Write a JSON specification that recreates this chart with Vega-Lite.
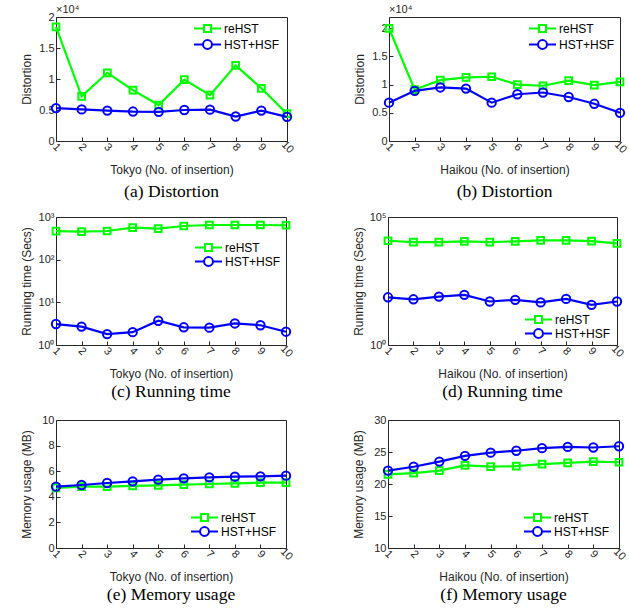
{
  "$schema": "https://vega.github.io/schema/vega-lite/v6.json",
  "padding": {"left": 19, "top": 3, "right": 0, "bottom": 0},
  "background": "white",
  "config": {
    "font": "Liberation Sans",
    "view": {"stroke": "#262626", "strokeWidth": 1},
    "axis": {
      "domain": false, "grid": false, "labelOverlap": false,
      "labelFont": "Liberation Sans", "labelFontSize": 11, "labelColor": "#262626",
      "titleFont": "Liberation Sans", "titleFontSize": 12, "titleFontWeight": "normal", "titleColor": "#262626",
      "tickColor": "#262626", "tickSize": -4
    },
    "axisX": {"labelAngle": 45, "labelAlign": "center", "labelBaseline": "middle", "labelPadding": 10, "titlePadding": 10, "labelFlush": false, "labelOverlap": false},
    "axisY": {"titlePadding": 3, "minExtent": 20, "maxExtent": 20, "labelPadding": 6, "labelOverlap": false},
    "legend": {"labelFont": "Liberation Sans", "labelFontSize": 12, "labelColor": "#000000", "symbolStrokeWidth": 2, "symbolSize": 729, "padding": 0, "labelOffset": 2, "symbolFillColor": "transparent"},
    "title": {"font": "Liberation Serif", "fontSize": 17.5, "fontWeight": "normal", "color": "#000000", "orient": "bottom", "anchor": "middle"}
  },
  "datasets": {
    "a": [
      {"n":1,"m":"reHST","v":18400},{"n":2,"m":"reHST","v":7200},{"n":3,"m":"reHST","v":11000},{"n":4,"m":"reHST","v":8200},{"n":5,"m":"reHST","v":5800},{"n":6,"m":"reHST","v":9900},{"n":7,"m":"reHST","v":7400},{"n":8,"m":"reHST","v":12200},{"n":9,"m":"reHST","v":8500},{"n":10,"m":"reHST","v":4400},
      {"n":1,"m":"HST+HSF","v":5300},{"n":2,"m":"HST+HSF","v":5100},{"n":3,"m":"HST+HSF","v":4900},{"n":4,"m":"HST+HSF","v":4750},{"n":5,"m":"HST+HSF","v":4700},{"n":6,"m":"HST+HSF","v":5000},{"n":7,"m":"HST+HSF","v":5050},{"n":8,"m":"HST+HSF","v":3950},{"n":9,"m":"HST+HSF","v":4900},{"n":10,"m":"HST+HSF","v":3900}
    ],
    "b": [
      {"n":1,"m":"reHST","v":20000},{"n":2,"m":"reHST","v":9100},{"n":3,"m":"reHST","v":10800},{"n":4,"m":"reHST","v":11300},{"n":5,"m":"reHST","v":11400},{"n":6,"m":"reHST","v":10000},{"n":7,"m":"reHST","v":9800},{"n":8,"m":"reHST","v":10700},{"n":9,"m":"reHST","v":9900},{"n":10,"m":"reHST","v":10500},
      {"n":1,"m":"HST+HSF","v":6800},{"n":2,"m":"HST+HSF","v":8900},{"n":3,"m":"HST+HSF","v":9500},{"n":4,"m":"HST+HSF","v":9300},{"n":5,"m":"HST+HSF","v":6800},{"n":6,"m":"HST+HSF","v":8300},{"n":7,"m":"HST+HSF","v":8600},{"n":8,"m":"HST+HSF","v":7800},{"n":9,"m":"HST+HSF","v":6600},{"n":10,"m":"HST+HSF","v":5000}
    ],
    "c": [
      {"n":1,"m":"reHST","v":468},{"n":2,"m":"reHST","v":455},{"n":3,"m":"reHST","v":470},{"n":4,"m":"reHST","v":562},{"n":5,"m":"reHST","v":533},{"n":6,"m":"reHST","v":615},{"n":7,"m":"reHST","v":650},{"n":8,"m":"reHST","v":650},{"n":9,"m":"reHST","v":650},{"n":10,"m":"reHST","v":640},
      {"n":1,"m":"HST+HSF","v":3.1},{"n":2,"m":"HST+HSF","v":2.7},{"n":3,"m":"HST+HSF","v":1.8},{"n":4,"m":"HST+HSF","v":2.0},{"n":5,"m":"HST+HSF","v":3.7},{"n":6,"m":"HST+HSF","v":2.6},{"n":7,"m":"HST+HSF","v":2.55},{"n":8,"m":"HST+HSF","v":3.2},{"n":9,"m":"HST+HSF","v":2.9},{"n":10,"m":"HST+HSF","v":2.05}
    ],
    "d": [
      {"n":1,"m":"reHST","v":11800},{"n":2,"m":"reHST","v":10500},{"n":3,"m":"reHST","v":10500},{"n":4,"m":"reHST","v":11200},{"n":5,"m":"reHST","v":10500},{"n":6,"m":"reHST","v":11200},{"n":7,"m":"reHST","v":12200},{"n":8,"m":"reHST","v":12200},{"n":9,"m":"reHST","v":11500},{"n":10,"m":"reHST","v":9300},
      {"n":1,"m":"HST+HSF","v":73},{"n":2,"m":"HST+HSF","v":61},{"n":3,"m":"HST+HSF","v":78},{"n":4,"m":"HST+HSF","v":91},{"n":5,"m":"HST+HSF","v":50},{"n":6,"m":"HST+HSF","v":58},{"n":7,"m":"HST+HSF","v":46},{"n":8,"m":"HST+HSF","v":63},{"n":9,"m":"HST+HSF","v":37},{"n":10,"m":"HST+HSF","v":50}
    ],
    "e": [
      {"n":1,"m":"reHST","v":4.7},{"n":2,"m":"reHST","v":4.8},{"n":3,"m":"reHST","v":4.8},{"n":4,"m":"reHST","v":4.85},{"n":5,"m":"reHST","v":4.9},{"n":6,"m":"reHST","v":4.95},{"n":7,"m":"reHST","v":5.0},{"n":8,"m":"reHST","v":5.05},{"n":9,"m":"reHST","v":5.1},{"n":10,"m":"reHST","v":5.1},
      {"n":1,"m":"HST+HSF","v":4.8},{"n":2,"m":"HST+HSF","v":4.92},{"n":3,"m":"HST+HSF","v":5.08},{"n":4,"m":"HST+HSF","v":5.21},{"n":5,"m":"HST+HSF","v":5.34},{"n":6,"m":"HST+HSF","v":5.44},{"n":7,"m":"HST+HSF","v":5.52},{"n":8,"m":"HST+HSF","v":5.57},{"n":9,"m":"HST+HSF","v":5.6},{"n":10,"m":"HST+HSF","v":5.65}
    ],
    "f": [
      {"n":1,"m":"reHST","v":21.5},{"n":2,"m":"reHST","v":21.7},{"n":3,"m":"reHST","v":22.1},{"n":4,"m":"reHST","v":22.9},{"n":5,"m":"reHST","v":22.7},{"n":6,"m":"reHST","v":22.8},{"n":7,"m":"reHST","v":23.1},{"n":8,"m":"reHST","v":23.3},{"n":9,"m":"reHST","v":23.5},{"n":10,"m":"reHST","v":23.4},
      {"n":1,"m":"HST+HSF","v":22.1},{"n":2,"m":"HST+HSF","v":22.7},{"n":3,"m":"HST+HSF","v":23.5},{"n":4,"m":"HST+HSF","v":24.4},{"n":5,"m":"HST+HSF","v":24.9},{"n":6,"m":"HST+HSF","v":25.2},{"n":7,"m":"HST+HSF","v":25.6},{"n":8,"m":"HST+HSF","v":25.8},{"n":9,"m":"HST+HSF","v":25.7},{"n":10,"m":"HST+HSF","v":25.9}
    ]
  },
  "spacing": 9,
  "vconcat": [
    {
      "spacing": 55,
      "hconcat": [
        {
          "width": 231, "height": 124,
          "title": {"text": "(a) Distortion", "offset": 7},
          "layer": [
            {
              "data": {"name": "a"},
              "encoding": {
                "x": {"field": "n", "type": "quantitative", "scale": {"domain": [1, 10], "nice": false}, "axis": {"values": [1,2,3,4,5,6,7,8,9,10], "labelOverlap": false, "title": "Tokyo (No. of insertion)"}},
                "y": {"field": "v", "type": "quantitative", "scale": {"domain": [0, 20000], "nice": false}, "axis": {"values": [0,5000,10000,15000,20000], "labelOverlap": false, "labelExpr": "datum.value/10000 + ''", "title": "Distortion"}}
              },
              "resolve": {"scale": {"color": "independent"}},
              "layer": [
                {
                  "transform": [{"filter": "datum.m === 'reHST'"}],
                  "encoding": {"color": {"field": "m", "type": "nominal", "scale": {"domain": ["reHST"], "range": ["#00ff00"]}, "legend": {"orient": "none", "legendX": 137, "legendY": -3, "title": null, "symbolSize": 729, "symbolType": "M-1,0L-0.26,0M-0.26,-0.26L0.26,-0.26L0.26,0.26L-0.26,0.26ZM0.26,0L1,0"}}},
                  "layer": [
                    {"mark": {"type": "line", "strokeWidth": 2.2}},
                    {"mark": {"type": "square", "filled": false, "size": 45, "strokeWidth": 2, "opacity": 1}}
                  ]
                },
                {
                  "transform": [{"filter": "datum.m === 'HST+HSF'"}],
                  "encoding": {"color": {"field": "m", "type": "nominal", "scale": {"domain": ["HST+HSF"], "range": ["#0000ff"]}, "legend": {"orient": "none", "legendX": 137, "legendY": 13, "title": null, "symbolSize": 729, "symbolType": "M-1,0L-0.33,0M0.33,0L1,0M-0.33,0A0.33,0.33,0,1,0,0.33,0A0.33,0.33,0,1,0,-0.33,0"}}},
                  "layer": [
                    {"mark": {"type": "line", "strokeWidth": 2.2}},
                    {"mark": {"type": "circle", "filled": false, "size": 70, "strokeWidth": 2, "opacity": 1}}
                  ]
                }
              ]
            },
            {
              "data": {"values": [{"t": "×10⁴"}]},
              "mark": {"type": "text", "align": "left", "baseline": "bottom", "dy": -2, "fontSize": 11, "color": "#262626"},
              "encoding": {
                "x": {"datum": 1, "type": "quantitative", "axis": {"values": [1,2,3,4,5,6,7,8,9,10], "labelOverlap": false, "title": "Tokyo (No. of insertion)"}},
                "y": {"datum": 20000, "type": "quantitative", "axis": {"values": [0,5000,10000,15000,20000], "labelOverlap": false, "labelExpr": "datum.value/10000 + ''", "title": "Distortion"}},
                "text": {"field": "t"}
              }
            }
          ]
        },
        {
          "width": 231, "height": 124,
          "title": {"text": "(b) Distortion", "offset": 7},
          "layer": [
            {
              "data": {"name": "b"},
              "encoding": {
                "x": {"field": "n", "type": "quantitative", "scale": {"domain": [1, 10], "nice": false}, "axis": {"values": [1,2,3,4,5,6,7,8,9,10], "labelOverlap": false, "title": "Haikou (No. of insertion)"}},
                "y": {"field": "v", "type": "quantitative", "scale": {"domain": [0, 22000], "nice": false}, "axis": {"values": [0,5000,10000,15000,20000], "labelOverlap": false, "labelExpr": "datum.value/10000 + ''", "title": "Distortion"}}
              },
              "resolve": {"scale": {"color": "independent"}},
              "layer": [
                {
                  "transform": [{"filter": "datum.m === 'reHST'"}],
                  "encoding": {"color": {"field": "m", "type": "nominal", "scale": {"domain": ["reHST"], "range": ["#00ff00"]}, "legend": {"orient": "none", "legendX": 139, "legendY": -3, "title": null, "symbolSize": 729, "symbolType": "M-1,0L-0.26,0M-0.26,-0.26L0.26,-0.26L0.26,0.26L-0.26,0.26ZM0.26,0L1,0"}}},
                  "layer": [
                    {"mark": {"type": "line", "strokeWidth": 2.2}},
                    {"mark": {"type": "square", "filled": false, "size": 45, "strokeWidth": 2, "opacity": 1}}
                  ]
                },
                {
                  "transform": [{"filter": "datum.m === 'HST+HSF'"}],
                  "encoding": {"color": {"field": "m", "type": "nominal", "scale": {"domain": ["HST+HSF"], "range": ["#0000ff"]}, "legend": {"orient": "none", "legendX": 139, "legendY": 13, "title": null, "symbolSize": 729, "symbolType": "M-1,0L-0.33,0M0.33,0L1,0M-0.33,0A0.33,0.33,0,1,0,0.33,0A0.33,0.33,0,1,0,-0.33,0"}}},
                  "layer": [
                    {"mark": {"type": "line", "strokeWidth": 2.2}},
                    {"mark": {"type": "circle", "filled": false, "size": 70, "strokeWidth": 2, "opacity": 1}}
                  ]
                }
              ]
            },
            {
              "data": {"values": [{"t": "×10⁴"}]},
              "mark": {"type": "text", "align": "left", "baseline": "bottom", "dy": -2, "fontSize": 11, "color": "#262626"},
              "encoding": {
                "x": {"datum": 1, "type": "quantitative", "axis": {"values": [1,2,3,4,5,6,7,8,9,10], "labelOverlap": false, "title": "Haikou (No. of insertion)"}},
                "y": {"datum": 22000, "type": "quantitative", "axis": {"values": [0,5000,10000,15000,20000], "labelOverlap": false, "labelExpr": "datum.value/10000 + ''", "title": "Distortion"}},
                "text": {"field": "t"}
              }
            }
          ]
        }
      ]
    },
    {
      "spacing": 12,
      "vconcat": [
        {
          "spacing": 55,
          "hconcat": [
            {
              "width": 230, "height": 128,
              "title": {"text": "(c) Running time", "offset": 3},
              "data": {"name": "c"},
              "encoding": {
                "x": {"field": "n", "type": "quantitative", "scale": {"domain": [1, 10], "nice": false}, "axis": {"values": [1,2,3,4,5,6,7,8,9,10], "labelOverlap": false, "title": "Tokyo (No. of insertion)"}},
                "y": {"field": "v", "type": "quantitative", "scale": {"type": "log", "domain": [1, 1000], "nice": false}, "axis": {"values": [1,10,100,1000], "labelOverlap": false, "labelExpr": "datum.value == 1 ? '10⁰' : datum.value == 10 ? '10¹' : datum.value == 100 ? '10²' : '10³'", "title": "Running time (Secs)"}}
              },
              "resolve": {"scale": {"color": "independent"}},
              "layer": [
                {
                  "transform": [{"filter": "datum.m === 'reHST'"}],
                  "encoding": {"color": {"field": "m", "type": "nominal", "scale": {"domain": ["reHST"], "range": ["#00ff00"]}, "legend": {"orient": "none", "legendX": 138, "legendY": 16, "title": null, "symbolSize": 729, "symbolType": "M-1,0L-0.26,0M-0.26,-0.26L0.26,-0.26L0.26,0.26L-0.26,0.26ZM0.26,0L1,0"}}},
                  "layer": [
                    {"mark": {"type": "line", "strokeWidth": 2.2}},
                    {"mark": {"type": "square", "filled": false, "size": 45, "strokeWidth": 2, "opacity": 1}}
                  ]
                },
                {
                  "transform": [{"filter": "datum.m === 'HST+HSF'"}],
                  "encoding": {"color": {"field": "m", "type": "nominal", "scale": {"domain": ["HST+HSF"], "range": ["#0000ff"]}, "legend": {"orient": "none", "legendX": 138, "legendY": 30, "title": null, "symbolSize": 729, "symbolType": "M-1,0L-0.33,0M0.33,0L1,0M-0.33,0A0.33,0.33,0,1,0,0.33,0A0.33,0.33,0,1,0,-0.33,0"}}},
                  "layer": [
                    {"mark": {"type": "line", "strokeWidth": 2.2}},
                    {"mark": {"type": "circle", "filled": false, "size": 70, "strokeWidth": 2, "opacity": 1}}
                  ]
                }
              ]
            },
            {
              "width": 229, "height": 128,
              "title": {"text": "(d) Running time", "offset": 3},
              "data": {"name": "d"},
              "encoding": {
                "x": {"field": "n", "type": "quantitative", "scale": {"domain": [1, 10], "nice": false}, "axis": {"values": [1,2,3,4,5,6,7,8,9,10], "labelOverlap": false, "title": "Haikou (No. of insertion)"}},
                "y": {"field": "v", "type": "quantitative", "scale": {"type": "log", "domain": [1, 100000], "nice": false}, "axis": {"values": [1,100000], "labelOverlap": false, "labelExpr": "datum.value == 1 ? '10⁰' : '10⁵'", "title": "Running time (Secs)"}}
              },
              "resolve": {"scale": {"color": "independent"}},
              "layer": [
                {
                  "transform": [{"filter": "datum.m === 'reHST'"}],
                  "encoding": {"color": {"field": "m", "type": "nominal", "scale": {"domain": ["reHST"], "range": ["#00ff00"]}, "legend": {"orient": "none", "legendX": 136, "legendY": 88, "title": null, "symbolSize": 729, "symbolType": "M-1,0L-0.26,0M-0.26,-0.26L0.26,-0.26L0.26,0.26L-0.26,0.26ZM0.26,0L1,0"}}},
                  "layer": [
                    {"mark": {"type": "line", "strokeWidth": 2.2}},
                    {"mark": {"type": "square", "filled": false, "size": 45, "strokeWidth": 2, "opacity": 1}}
                  ]
                },
                {
                  "transform": [{"filter": "datum.m === 'HST+HSF'"}],
                  "encoding": {"color": {"field": "m", "type": "nominal", "scale": {"domain": ["HST+HSF"], "range": ["#0000ff"]}, "legend": {"orient": "none", "legendX": 136, "legendY": 102, "title": null, "symbolSize": 729, "symbolType": "M-1,0L-0.33,0M0.33,0L1,0M-0.33,0A0.33,0.33,0,1,0,0.33,0A0.33,0.33,0,1,0,-0.33,0"}}},
                  "layer": [
                    {"mark": {"type": "line", "strokeWidth": 2.2}},
                    {"mark": {"type": "circle", "filled": false, "size": 70, "strokeWidth": 2, "opacity": 1}}
                  ]
                }
              ]
            }
          ]
        },
        {
          "spacing": 55,
          "hconcat": [
            {
              "width": 230, "height": 128,
              "title": {"text": "(e) Memory usage", "offset": 3},
              "data": {"name": "e"},
              "encoding": {
                "x": {"field": "n", "type": "quantitative", "scale": {"domain": [1, 10], "nice": false}, "axis": {"values": [1,2,3,4,5,6,7,8,9,10], "labelOverlap": false, "title": "Tokyo (No. of insertion)"}},
                "y": {"field": "v", "type": "quantitative", "scale": {"domain": [0, 10], "nice": false}, "axis": {"values": [0,2,4,6,8,10], "labelOverlap": false, "title": "Memory usage (MB)"}}
              },
              "resolve": {"scale": {"color": "independent"}},
              "layer": [
                {
                  "transform": [{"filter": "datum.m === 'reHST'"}],
                  "encoding": {"color": {"field": "m", "type": "nominal", "scale": {"domain": ["reHST"], "range": ["#00ff00"]}, "legend": {"orient": "none", "legendX": 134, "legendY": 83, "title": null, "symbolSize": 729, "symbolType": "M-1,0L-0.26,0M-0.26,-0.26L0.26,-0.26L0.26,0.26L-0.26,0.26ZM0.26,0L1,0"}}},
                  "layer": [
                    {"mark": {"type": "line", "strokeWidth": 2.2}},
                    {"mark": {"type": "square", "filled": false, "size": 45, "strokeWidth": 2, "opacity": 1}}
                  ]
                },
                {
                  "transform": [{"filter": "datum.m === 'HST+HSF'"}],
                  "encoding": {"color": {"field": "m", "type": "nominal", "scale": {"domain": ["HST+HSF"], "range": ["#0000ff"]}, "legend": {"orient": "none", "legendX": 134, "legendY": 97, "title": null, "symbolSize": 729, "symbolType": "M-1,0L-0.33,0M0.33,0L1,0M-0.33,0A0.33,0.33,0,1,0,0.33,0A0.33,0.33,0,1,0,-0.33,0"}}},
                  "layer": [
                    {"mark": {"type": "line", "strokeWidth": 2.2}},
                    {"mark": {"type": "circle", "filled": false, "size": 70, "strokeWidth": 2, "opacity": 1}}
                  ]
                }
              ]
            },
            {
              "width": 231, "height": 128,
              "title": {"text": "(f) Memory usage", "offset": 3},
              "data": {"name": "f"},
              "encoding": {
                "x": {"field": "n", "type": "quantitative", "scale": {"domain": [1, 10], "nice": false}, "axis": {"values": [1,2,3,4,5,6,7,8,9,10], "labelOverlap": false, "title": "Haikou (No. of insertion)"}},
                "y": {"field": "v", "type": "quantitative", "scale": {"domain": [10, 30], "nice": false, "zero": false}, "axis": {"values": [10,15,20,25,30], "labelOverlap": false, "title": "Memory usage (MB)"}}
              },
              "resolve": {"scale": {"color": "independent"}},
              "layer": [
                {
                  "transform": [{"filter": "datum.m === 'reHST'"}],
                  "encoding": {"color": {"field": "m", "type": "nominal", "scale": {"domain": ["reHST"], "range": ["#00ff00"]}, "legend": {"orient": "none", "legendX": 135, "legendY": 83, "title": null, "symbolSize": 729, "symbolType": "M-1,0L-0.26,0M-0.26,-0.26L0.26,-0.26L0.26,0.26L-0.26,0.26ZM0.26,0L1,0"}}},
                  "layer": [
                    {"mark": {"type": "line", "strokeWidth": 2.2}},
                    {"mark": {"type": "square", "filled": false, "size": 45, "strokeWidth": 2, "opacity": 1}}
                  ]
                },
                {
                  "transform": [{"filter": "datum.m === 'HST+HSF'"}],
                  "encoding": {"color": {"field": "m", "type": "nominal", "scale": {"domain": ["HST+HSF"], "range": ["#0000ff"]}, "legend": {"orient": "none", "legendX": 135, "legendY": 97, "title": null, "symbolSize": 729, "symbolType": "M-1,0L-0.33,0M0.33,0L1,0M-0.33,0A0.33,0.33,0,1,0,0.33,0A0.33,0.33,0,1,0,-0.33,0"}}},
                  "layer": [
                    {"mark": {"type": "line", "strokeWidth": 2.2}},
                    {"mark": {"type": "circle", "filled": false, "size": 70, "strokeWidth": 2, "opacity": 1}}
                  ]
                }
              ]
            }
          ]
        }
      ]
    }
  ]
}
